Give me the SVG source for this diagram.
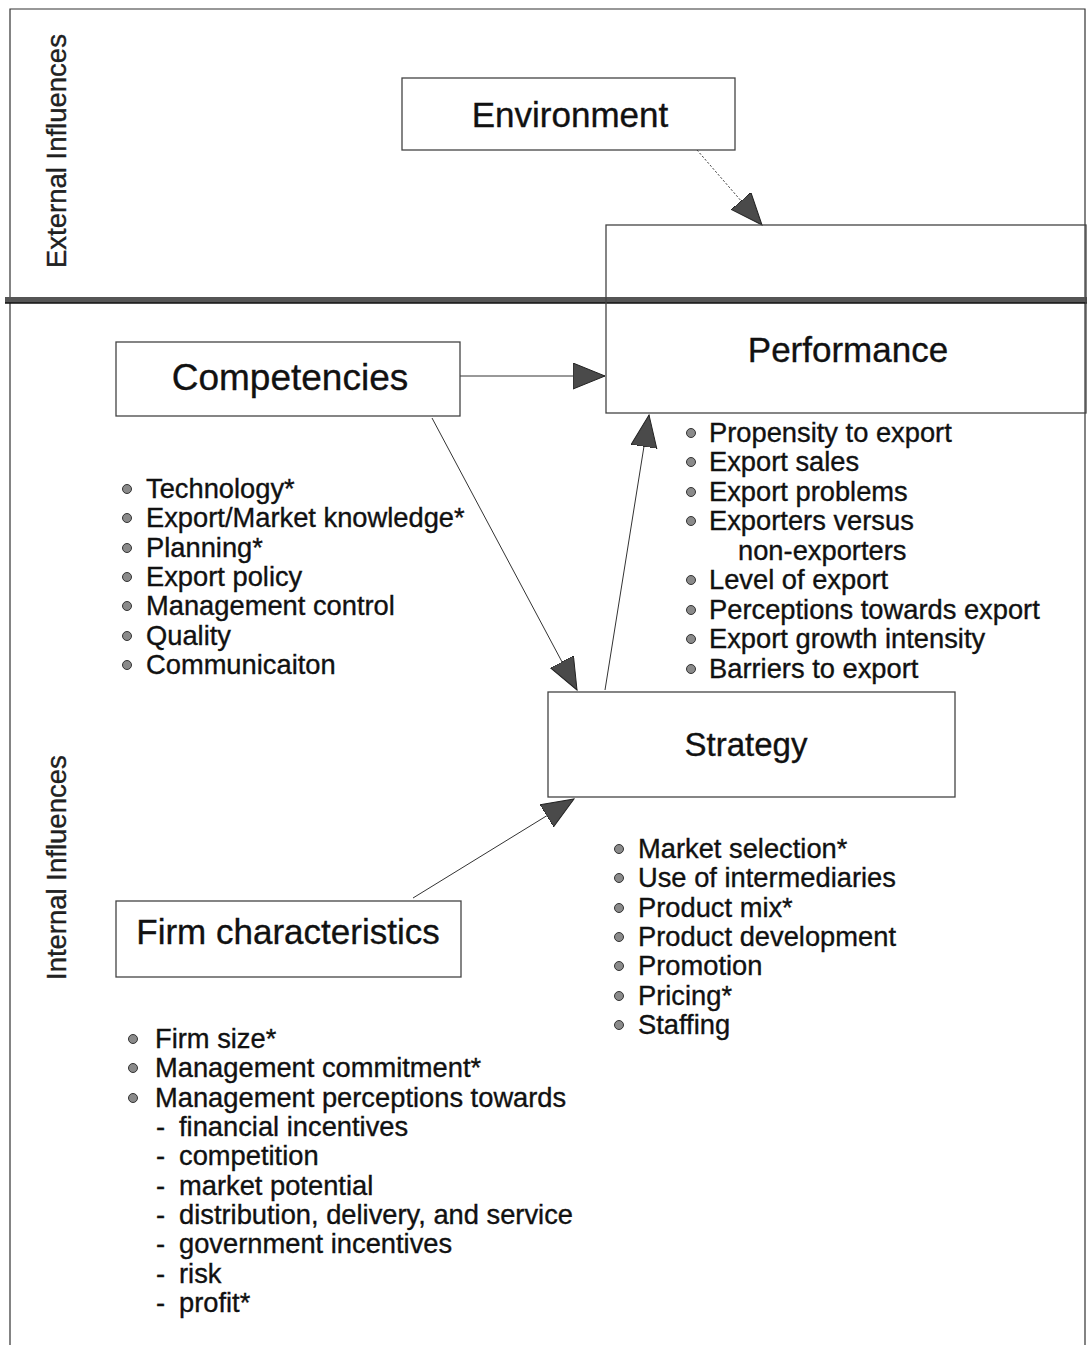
<svg xmlns="http://www.w3.org/2000/svg" width="1092" height="1345" viewBox="0 0 1092 1345">
<style>
text{font-family:"Liberation Sans",Arial,sans-serif;fill:#111;stroke:#111;stroke-width:0.35}
.box{fill:#fff;stroke:#444;stroke-width:1.3}
.lbl{font-size:35px;text-anchor:middle}
.side{font-size:27.5px;fill:#222}
.li{font-size:27.3px}
.dot{fill:#8a8a8a;stroke:#333;stroke-width:1}
.edge{stroke:#333;stroke-width:1;fill:none}
.frame{stroke:#333;stroke-width:1.2;fill:none}
</style>
<defs>
<marker id="ah" markerUnits="userSpaceOnUse" markerWidth="34" markerHeight="28" refX="32" refY="13" orient="auto">
<path d="M0,0 L32,13 L0,26 Z" fill="#4a4a4a" stroke="#222" stroke-width="1"/>
</marker>
</defs>
<rect width="1092" height="1345" fill="#fff"/>
<g id="frame">
<path class="frame" d="M10,1345 V9 H1085 V1345"/>
<rect x="5" y="297" width="1082" height="6" fill="#555"/>
<line x1="5" y1="303" x2="1087" y2="303" stroke="#111" stroke-width="1.4"/>
<text class="side" transform="translate(66,268) rotate(-90)">External Influences</text>
<text class="side" transform="translate(66,980) rotate(-90)">Internal Influences</text>
</g>
<g id="connectors">
<line class="edge" x1="697" y1="150" x2="762" y2="225" stroke-dasharray="2,2" stroke="#888" marker-end="url(#ah)"/>
<line class="edge" x1="460" y1="376" x2="605" y2="376" marker-end="url(#ah)"/>
<line class="edge" x1="432" y1="418" x2="577" y2="690" marker-end="url(#ah)"/>
<line class="edge" x1="605" y1="690" x2="649" y2="415" marker-end="url(#ah)"/>
<line class="edge" x1="413" y1="898" x2="574" y2="799" marker-end="url(#ah)"/>
</g>
<g id="environment">
<rect class="box" x="402" y="78" width="333" height="72"/>
<text class="lbl" x="570" y="127">Environment</text>
</g>
<g id="performance">
<rect class="box" x="606" y="225" width="480" height="188" style="fill:none"/>
<text class="lbl" x="848" y="362">Performance</text>
<circle class="dot" cx="691" cy="433" r="4.5"/><text class="li" x="709" y="442">Propensity to export</text>
<circle class="dot" cx="691" cy="462" r="4.5"/><text class="li" x="709" y="471">Export sales</text>
<circle class="dot" cx="691" cy="492" r="4.5"/><text class="li" x="709" y="501">Export problems</text>
<circle class="dot" cx="691" cy="521" r="4.5"/><text class="li" x="709" y="530">Exporters versus</text>
<text class="li" x="738" y="560">non-exporters</text>
<circle class="dot" cx="691" cy="580" r="4.5"/><text class="li" x="709" y="589">Level of export</text>
<circle class="dot" cx="691" cy="610" r="4.5"/><text class="li" x="709" y="619">Perceptions towards export</text>
<circle class="dot" cx="691" cy="639" r="4.5"/><text class="li" x="709" y="648">Export growth intensity</text>
<circle class="dot" cx="691" cy="669" r="4.5"/><text class="li" x="709" y="678">Barriers to export</text>
</g>
<g id="competencies">
<rect class="box" x="116" y="342" width="344" height="74"/>
<text class="lbl" x="290" y="390" style="font-size:37px">Competencies</text>
<circle class="dot" cx="127" cy="489" r="4.5"/><text class="li" x="146" y="498">Technology*</text>
<circle class="dot" cx="127" cy="518" r="4.5"/><text class="li" x="146" y="527">Export/Market knowledge*</text>
<circle class="dot" cx="127" cy="548" r="4.5"/><text class="li" x="146" y="557">Planning*</text>
<circle class="dot" cx="127" cy="577" r="4.5"/><text class="li" x="146" y="586">Export policy</text>
<circle class="dot" cx="127" cy="606" r="4.5"/><text class="li" x="146" y="615">Management control</text>
<circle class="dot" cx="127" cy="636" r="4.5"/><text class="li" x="146" y="645">Quality</text>
<circle class="dot" cx="127" cy="665" r="4.5"/><text class="li" x="146" y="674">Communicaiton</text>
</g>
<g id="strategy">
<rect class="box" x="548" y="692" width="407" height="105"/>
<text class="lbl" x="746" y="756" style="font-size:33px">Strategy</text>
<circle class="dot" cx="619" cy="849" r="4.5"/><text class="li" x="638" y="858">Market selection*</text>
<circle class="dot" cx="619" cy="878" r="4.5"/><text class="li" x="638" y="887">Use of intermediaries</text>
<circle class="dot" cx="619" cy="908" r="4.5"/><text class="li" x="638" y="917">Product mix*</text>
<circle class="dot" cx="619" cy="937" r="4.5"/><text class="li" x="638" y="946">Product development</text>
<circle class="dot" cx="619" cy="966" r="4.5"/><text class="li" x="638" y="975">Promotion</text>
<circle class="dot" cx="619" cy="996" r="4.5"/><text class="li" x="638" y="1005">Pricing*</text>
<circle class="dot" cx="619" cy="1025" r="4.5"/><text class="li" x="638" y="1034">Staffing</text>
</g>
<g id="firm">
<rect class="box" x="116" y="901" width="345" height="76"/>
<text class="lbl" x="288" y="944">Firm characteristics</text>
<circle class="dot" cx="133" cy="1039" r="4.5"/><text class="li" x="155" y="1048">Firm size*</text>
<circle class="dot" cx="133" cy="1068" r="4.5"/><text class="li" x="155" y="1077">Management commitment*</text>
<circle class="dot" cx="133" cy="1098" r="4.5"/><text class="li" x="155" y="1107">Management perceptions towards</text>
<text class="li" x="156" y="1136">-</text><text class="li" x="179" y="1136">financial incentives</text>
<text class="li" x="156" y="1165">-</text><text class="li" x="179" y="1165">competition</text>
<text class="li" x="156" y="1195">-</text><text class="li" x="179" y="1195">market potential</text>
<text class="li" x="156" y="1224">-</text><text class="li" x="179" y="1224">distribution, delivery, and service</text>
<text class="li" x="156" y="1253">-</text><text class="li" x="179" y="1253">government incentives</text>
<text class="li" x="156" y="1283">-</text><text class="li" x="179" y="1283">risk</text>
<text class="li" x="156" y="1312">-</text><text class="li" x="179" y="1312">profit*</text>
</g>
</svg>
